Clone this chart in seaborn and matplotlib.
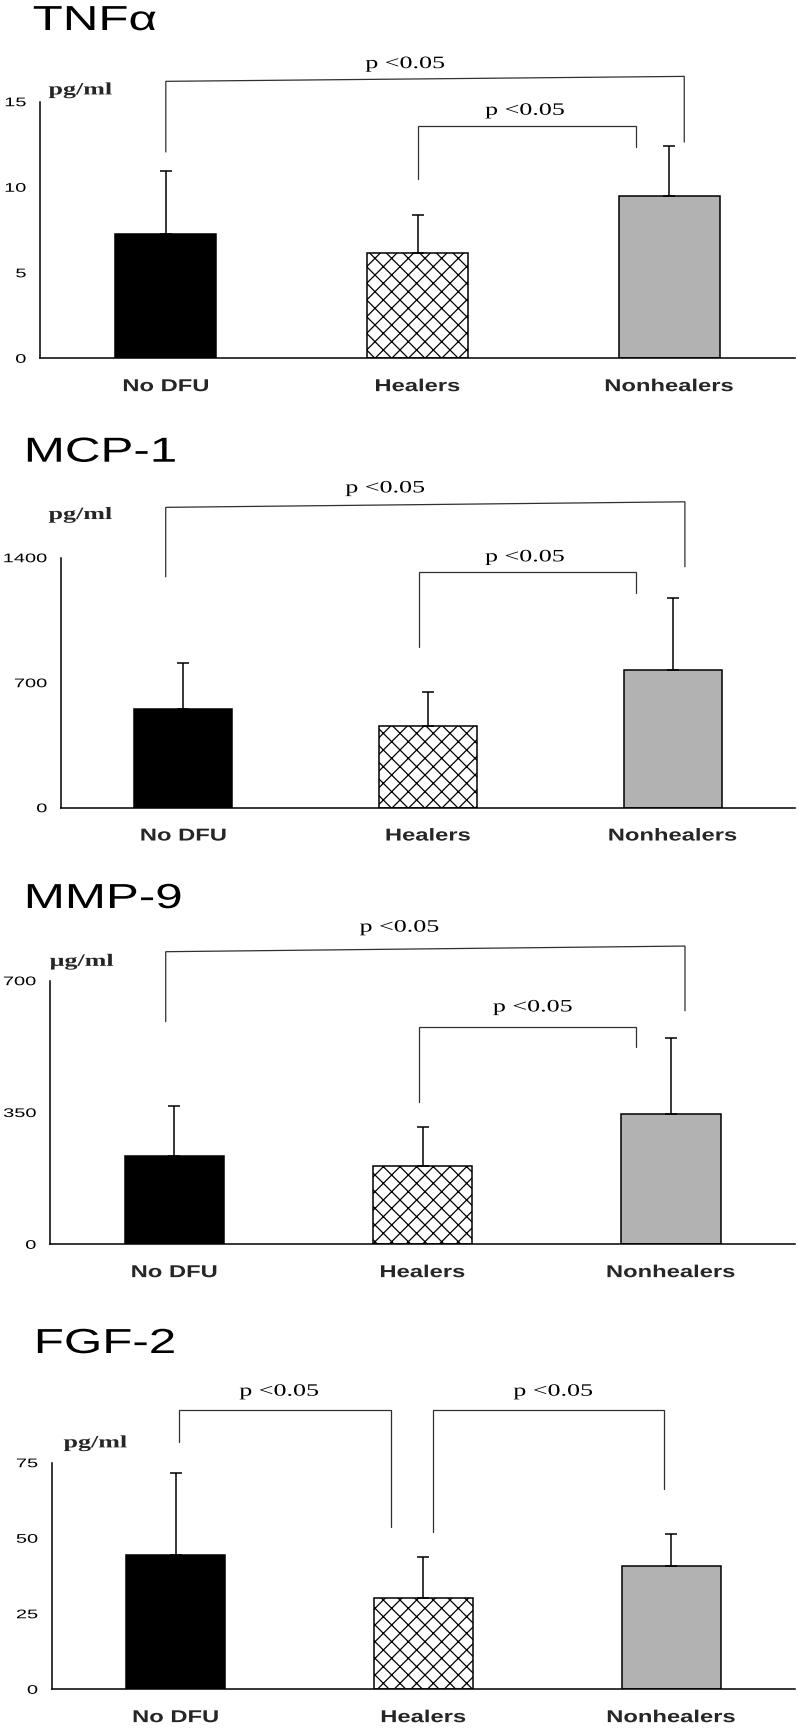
import numpy as np
import pandas as pd
import matplotlib
matplotlib.use("Agg")
import matplotlib.pyplot as plt
import seaborn as sns
from matplotlib.patheffects import AbstractPathEffect
from matplotlib.transforms import Affine2D

# ---------------- data ----------------
groups = ["No DFU", "Healers", "Nonhealers"]

tnf_mean = [7.25, 6.13, 9.47]
tnf_sd = [3.72, 2.24, 2.96]
mcp_mean = [551, 459, 771]
mcp_sd = [257, 191, 401]
mmp_mean = [234.5, 208, 345]
mmp_sd = [133.5, 103, 202]
fgf_mean = [44.4, 30.1, 40.9]
fgf_sd = [27.1, 13.8, 10.5]

titles = ["TNFα", "MCP-1", "MMP-9", "FGF-2"]
units = ["pg/ml", "pg/ml", "μg/ml", "pg/ml"]
yticks_list = [[0, 5, 10, 15], [0, 700, 1400], [0, 350, 700], [0, 25, 50, 75]]
p_text = "p <0.05"

means_list = [tnf_mean, mcp_mean, mmp_mean, fgf_mean]
sds_list = [tnf_sd, mcp_sd, mmp_sd, fgf_sd]

# ---------------- style ----------------
sns.set_style("white")
plt.rcParams["font.family"] = ["Liberation Sans", "DejaVu Sans"]
plt.rcParams["hatch.color"] = "black"
plt.rcParams["hatch.linewidth"] = 0.9

bar_colors = ["#000000", "#ffffff", "#b2b2b2"]
line_col = "#303030"


class HStretch(AbstractPathEffect):
    """Stretch text horizontally (the reference lettering is wide)."""

    def __init__(self, sx, anchor="center"):
        super().__init__()
        self.sx = sx
        self.anchor = anchor

    def draw_path(self, renderer, gc, tpath, affine, rgbFace=None):
        ext = tpath.get_extents()
        if self.anchor == "left":
            cx = ext.x0
        elif self.anchor == "right":
            cx = ext.x1
        else:
            cx = 0.5 * (ext.x0 + ext.x1)
        t = Affine2D().translate(-cx, 0).scale(self.sx, 1).translate(cx, 0) + affine
        renderer.draw_path(gc, tpath, t, rgbFace)


W, H = 798, 1728
fig = plt.figure(figsize=(W / 100, H / 100), dpi=100)
fig.patch.set_facecolor("white")

# axes boxes in pixels: (x_left, x_right, y_top, y_bottom)
boxes = [(40, 795, 101.7, 358.3),
         (61, 795, 557.7, 807.7),
         (50, 795, 980.7, 1244.3),
         (51.7, 795, 1462.7, 1689.3)]
title_pos = [(33, 30), (25, 461.7), (25, 908), (35, 1353)]
unit_pos = [(-0.339, 15.66), (-0.42, 1639), (-0.372, 750), (-0.323, 81.4)]
# brackets: (x_left, x_right, yl_bottom, yl_top, yr_top, yr_bottom, text_x, text_y)
brackets = [
    [(0.0, 2.06, 12.06, 16.19, 16.48, 12.64, 0.95, 17.2),
     (1.0, 1.87, 10.5, 13.6, 13.6, 12.35, 1.426, 14.47)],
    [(-0.072, 2.05, 1293, 1682, 1713, 1349, 0.824, 1788),
     (0.963, 1.85, 901, 1321, 1321, 1200, 1.395, 1402)],
    [(-0.034, 2.057, 591, 777, 792, 620, 0.906, 841),
     (0.986, 1.86, 379, 578, 578, 523, 1.443, 629)],
    [(0.014, 0.869, 81.7, 92.4, 92.4, 53.8, 0.417, 98.5),
     (1.0376, 1.971, 52.2, 92.4, 92.4, 66.2, 1.523, 98.5)],
]

for i in range(4):
    x0, x1, yt, yb = boxes[i]
    ax = fig.add_axes([x0 / W, 1 - yb / H, (x1 - x0) / W, (yb - yt) / H])
    df = pd.DataFrame({"group": groups, "value": means_list[i]})
    sns.barplot(data=df, x="group", y="value", hue="group", order=groups,
                hue_order=groups, palette=bar_colors, saturation=1, width=0.4,
                edgecolor="black", linewidth=1.1, errorbar=None, legend=False,
                ax=ax)
    for bar in ax.containers[1]:
        bar.set_hatch("xx")
    sds = np.array(sds_list[i], dtype=float)
    ax.errorbar(np.arange(3), means_list[i], yerr=[np.zeros(3), sds], fmt="none",
                ecolor="black", elinewidth=1.1, capsize=4.5, capthick=1.1, zorder=3)

    ax.set_xlim(-0.5, 2.5)
    ax.set_ylim(0, yticks_list[i][-1])
    ax.set_xlabel("")
    ax.set_ylabel("")
    for s in ["top", "right"]:
        ax.spines[s].set_visible(False)
    for s in ["left", "bottom"]:
        ax.spines[s].set_linewidth(1.1)
        ax.spines[s].set_color("black")

    ax.set_yticks(yticks_list[i])
    ax.set_yticklabels([str(v) for v in yticks_list[i]])
    ax.tick_params(axis="y", direction="out", length=6, width=1.1, pad=4,
                   labelsize=9, colors="black")
    ax.set_xticks([0, 1, 2])
    ax.set_xticklabels(groups, fontweight="bold")
    ax.set_xticks([-0.5, 0.5, 1.5, 2.5], minor=True)
    ax.tick_params(axis="x", which="major", length=0, pad=15, labelsize=12.4)
    ax.tick_params(axis="x", which="minor", direction="out", length=4, width=1.1,
                   color="black")
    for t in ax.get_yticklabels():
        t.set_path_effects([HStretch(1.6, "right")])
    for t in ax.get_xticklabels():
        t.set_path_effects([HStretch(1.38, "center")])

    # unit label
    ux, uy = unit_pos[i]
    ax.text(ux, uy, units[i], family=["Liberation Serif", "DejaVu Serif"],
            fontweight="bold", fontsize=12.5, ha="center", va="center",
            path_effects=[HStretch(1.5, "center")])

    # significance brackets
    for (xl, xr, ylb, ylt, yrt, yrb, tx, ty) in brackets[i]:
        ax.plot([xl, xl, xr, xr], [ylb, ylt, yrt, yrb], color=line_col,
                lw=0.9, clip_on=False, solid_joinstyle="miter")
        ax.text(tx, ty, p_text, family=["Liberation Serif", "DejaVu Serif"],
                fontsize=12.5, ha="center", va="center", color="black",
                path_effects=[HStretch(1.5, "center")])

    # panel title
    tx, ty = title_pos[i]
    fig.text(tx / W, 1 - ty / H, titles[i], fontsize=25, ha="left",
             va="baseline", color="black",
             path_effects=[HStretch(1.42, "left")])

fig.savefig("out.png", dpi=100, facecolor="white")
